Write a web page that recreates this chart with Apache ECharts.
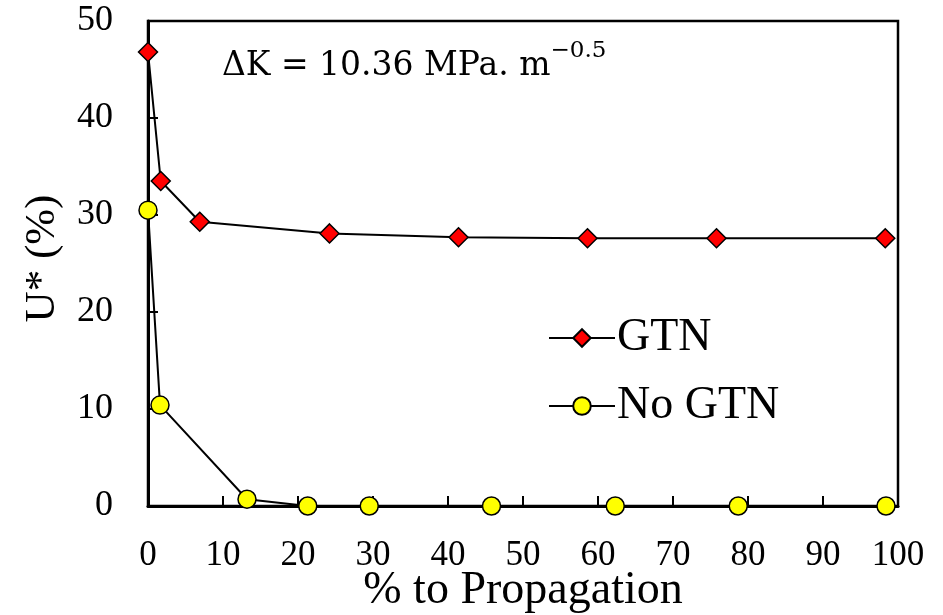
<!DOCTYPE html>
<html><head><meta charset="utf-8">
<script src="https://cdn.jsdelivr.net/npm/echarts@6/dist/echarts.min.js"></script>
<style>html,body{margin:0;padding:0;background:#fff;overflow:hidden}#c{width:943px;height:615px}</style>
</head><body><div id="c"></div>
<script>
const gtnX = [0, 1.7, 6.9, 24.2, 41.4, 58.6, 75.8, 98.3];
const gtnY = [46.8, 33.5, 29.3, 28.1, 27.7, 27.6, 27.6, 27.6];
const noGtnX = [0, 1.6, 13.2, 21.3, 29.5, 45.8, 62.3, 78.7, 98.4];
const noGtnY = [30.5, 10.4, 0.7, 0, 0, 0, 0, 0, 0];
const seriesNames = ['GTN', 'No GTN'];
const xTitle = '% to Propagation';
const yTitle = 'U* (%)';

const F = '"Liberation Serif", "Times New Roman", serif';
const chart = echarts.init(document.getElementById('c'));
chart.setOption({
  animation: false,
  grid: {left: 148, top: 21, right: 45, bottom: 109, outerBoundsMode: 'none', containLabel: false,
         show: true, borderColor: '#000', borderWidth: 2.5, backgroundColor: 'transparent'},
  xAxis: {
    type: 'value', min: 0, max: 100, interval: 10,
    name: xTitle, nameLocation: 'middle', nameGap: 62, nameMoveOverlap: false,
    nameTextStyle: {fontFamily: F, fontSize: 46, color: '#000'},
    axisLine: {show: true, onZero: false, lineStyle: {color: '#000', width: 3}},
    axisTick: {show: true, inside: true, length: 10, lineStyle: {color: '#000', width: 2}},
    axisLabel: {fontFamily: F, fontSize: 35, color: '#000', margin: 32},
    splitLine: {show: false}
  },
  yAxis: {
    type: 'value', min: 0, max: 50, interval: 10,
    name: yTitle, nameLocation: 'middle', nameGap: 84, nameRotate: 90, nameMoveOverlap: false,
    nameTextStyle: {fontFamily: F, fontSize: 43, color: '#000', padding: [0, 0, 0, 10]},
    axisLine: {show: true, lineStyle: {color: '#000', width: 3}},
    axisTick: {show: true, inside: true, length: 10, lineStyle: {color: '#000', width: 2}},
    axisLabel: {fontFamily: F, fontSize: 36, color: '#000', margin: 35},
    splitLine: {show: false}
  },
  legend: {
    orient: 'vertical', left: 543, top: 310, itemGap: 22,
    itemWidth: 66, itemHeight: 22,
    textStyle: {fontFamily: F, fontSize: 46, color: '#000', padding: [0, 0, 0, -3]},
    data: seriesNames
  },
  graphic: [{
    type: 'text', left: 222, top: 40,
    style: {
      text: '{a|ΔK = 10.36 MPa. m}{s|−0.5}',
      rich: {
        a: {fontFamily: '"DejaVu Serif", serif', fontSize: 33, fill: '#000', verticalAlign: 'bottom'},
        s: {fontFamily: '"DejaVu Serif", serif', fontSize: 23, fill: '#000', verticalAlign: 'top', padding: [0, 0, 20, 0]}
      }
    }
  }],
  series: [
    {
      name: seriesNames[0], type: 'line',
      data: gtnX.map((x, i) => [x, gtnY[i]]),
      symbol: 'diamond', symbolSize: 19,
      itemStyle: {color: '#ff0000', borderColor: '#000', borderWidth: 1.5},
      lineStyle: {color: '#000', width: 2},
      z: 3
    },
    {
      name: seriesNames[1], type: 'line',
      data: noGtnX.map((x, i) => [x, noGtnY[i]]),
      symbol: 'circle', symbolSize: 18,
      itemStyle: {color: '#ffff00', borderColor: '#000', borderWidth: 1.5},
      lineStyle: {color: '#000', width: 2},
      z: 3
    }
  ]
});
</script></body></html>
